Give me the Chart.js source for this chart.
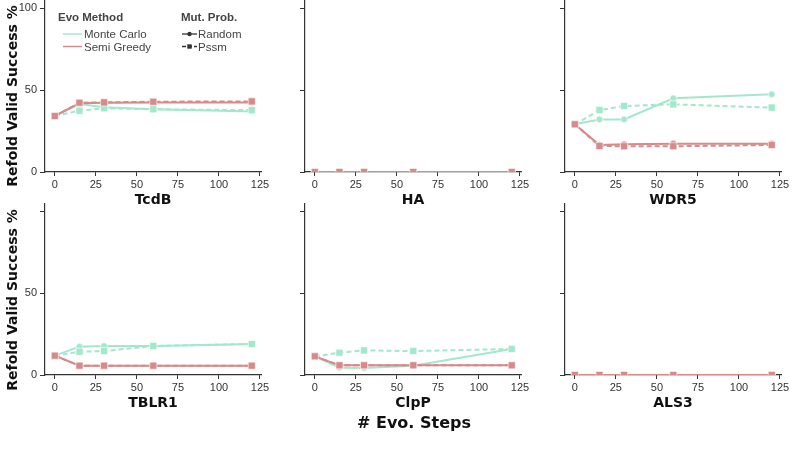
<!DOCTYPE html>
<html>
<head>
<meta charset="utf-8">
<script src="https://cdn.jsdelivr.net/npm/chart.js@4"></script>
<style>
  body { margin: 0; width: 793px; height: 453px; background: #fff; overflow: hidden; position: relative; font-family: "Liberation Sans", Arial, sans-serif; }
  canvas { position: absolute; }
  .title { position: absolute; font-family: "DejaVu Sans", sans-serif; font-weight: bold; color: #111; white-space: nowrap; transform: translate(-50%, -50%); }
  .ytitle { position: absolute; font-family: "DejaVu Sans", sans-serif; font-weight: bold; font-size: 14px; color: #111; white-space: nowrap; transform: translate(-50%, -50%) rotate(-90deg); }
  .leg { position: absolute; font-size: 11.5px; color: #444; white-space: nowrap; transform: translateY(-50%); }
  .leg.b { font-weight: bold; }
  svg { position: absolute; left: 0; top: 0; }
</style>
</head>
<body>
<script>
const steps = [0, 15, 30, 60, 120];
const proteins = ['TcdB', 'HA', 'WDR5', 'TBLR1', 'ClpP', 'ALS3'];
const xTicks = [0, 25, 50, 75, 100, 125];
const yTicks = [0, 50, 100];

// one row per protein, same order as proteins
const mcRandom = [
  [34.2, 41.5, 39.5, 38.3, 37.0],
  [0, 0, 0, 0, 0],
  [29.1, 32.1, 32.1, 45.0, 47.4],
  [11.8, 17.3, 17.7, 17.7, 18.9],
  [11.4, 4.5, 4.3, 5.7, 15.9],
  [0, 0, 0, 0, 0]
];
const mcPssm = [
  [34.2, 37.4, 38.9, 38.3, 37.8],
  [0, 0, 0, 0, 0],
  [29.1, 37.8, 40.3, 41.3, 39.3],
  [11.8, 14.2, 14.6, 17.7, 18.9],
  [11.4, 13.6, 15.0, 14.6, 15.9],
  [0, 0, 0, 0, 0]
];
const sgRandom = [
  [34.2, 42.0, 42.3, 42.5, 42.5],
  [0, 0, 0, 0, 0],
  [29.1, 16.5, 16.9, 17.3, 17.3],
  [11.8, 5.7, 5.7, 5.7, 5.7],
  [11.4, 5.9, 5.9, 5.9, 5.9],
  [0, 0, 0, 0, 0]
];
const sgPssm = [
  [34.2, 42.3, 42.5, 42.9, 43.1],
  [0, 0, 0, 0, 0],
  [29.1, 15.9, 15.7, 15.7, 16.5],
  [11.8, 5.7, 5.7, 5.7, 5.7],
  [11.4, 5.9, 5.9, 5.9, 5.9],
  [0, 0, 0, 0, 0]
];

const teal = '#a3e8cd';
const red = '#d88989';
const axisColor = '#333';

function series(vals, color, dashed, order) {
  return {
    data: steps.map((s, i) => ({ x: s, y: vals[i] })),
    borderColor: color,
    backgroundColor: color,
    borderWidth: 2,
    borderDash: dashed ? [5, 3] : [],
    pointStyle: dashed ? 'rect' : 'circle',
    pointRadius: dashed ? 5 : 3.3,
    pointBorderColor: '#fff',
    pointBorderWidth: 0.6,
    pointBackgroundColor: color,
    order: order
  };
}

proteins.forEach((name, k) => {
  const col = k % 3, row = Math.floor(k / 3);
  const cv = document.createElement('canvas');
  cv.width = 273; cv.height = 200;
  cv.style.left = (260 * col) + 'px';
  cv.style.top = (row ? 203 : 0) + 'px';
  document.body.appendChild(cv);

  new Chart(cv, {
    type: 'line',
    data: {
      datasets: [
        series(mcRandom[k], teal, false, 3),
        series(mcPssm[k], teal, true, 2),
        series(sgRandom[k], red, false, 1),
        series(sgPssm[k], red, true, 0)
      ]
    },
    options: {
      responsive: false,
      animation: false,
      layout: { autoPadding: false, padding: { left: 0, right: 11.4, top: 0, bottom: 0 } },
      plugins: { legend: { display: false }, tooltip: { enabled: false } },
      scales: {
        x: {
          type: 'linear',
          min: -6, max: 126,
          afterBuildTicks: s => { s.ticks = xTicks.map(v => ({ value: v })); },
          afterFit: s => { s.height = 28; s.paddingLeft = 0; s.paddingRight = 0; },
          grid: { drawOnChartArea: false, drawTicks: true, tickLength: 4, color: axisColor, lineWidth: 1 },
          border: { display: true, color: axisColor, width: 1.2 },
          ticks: { color: '#333', padding: 2, maxRotation: 0, font: { family: 'Liberation Sans', size: 11 } }
        },
        y: {
          min: 0, max: 105,
          afterBuildTicks: s => { s.ticks = yTicks.map(v => ({ value: v })); },
          afterFit: s => { s.width = 45; s.paddingTop = 0; s.paddingBottom = 0; },
          grid: { drawOnChartArea: false, drawTicks: true, tickLength: 5, color: axisColor, lineWidth: 1 },
          border: { display: true, color: axisColor, width: 1.2 },
          ticks: {
            color: '#333', padding: 3, font: { family: 'Liberation Sans', size: 11 },
            callback: v => (col === 0 && !(row === 1 && v === 100)) ? String(v) : ''
          }
        }
      }
    }
  });

  const t = document.createElement('div');
  t.className = 'title';
  t.style.fontSize = '14px';
  t.style.left = (153 + 260 * col) + 'px';
  t.style.top = (row ? 402 : 199) + 'px';
  t.textContent = name;
  document.body.appendChild(t);
});

[96, 300].forEach(y => {
  const d = document.createElement('div');
  d.className = 'ytitle';
  d.style.left = '12px';
  d.style.top = y + 'px';
  d.textContent = 'Refold Valid Success %';
  document.body.appendChild(d);
});

const xt = document.createElement('div');
xt.className = 'title';
xt.style.fontSize = '16px';
xt.style.left = '414px';
xt.style.top = '422px';
xt.textContent = '# Evo. Steps';
document.body.appendChild(xt);

// legend
const legText = [
  ['Evo Method', 58, 16.5, true], ['Mut. Prob.', 181, 16.5, true],
  ['Monte Carlo', 84, 34, false], ['Semi Greedy', 84, 46.5, false],
  ['Random', 198, 34, false], ['Pssm', 198, 46.5, false]
];
legText.forEach(([txt, x, y, b]) => {
  const d = document.createElement('div');
  d.className = 'leg' + (b ? ' b' : '');
  d.style.left = x + 'px';
  d.style.top = y + 'px';
  d.textContent = txt;
  document.body.appendChild(d);
});
document.body.insertAdjacentHTML('beforeend',
  '<svg width="260" height="60">' +
  '<line x1="63" y1="34" x2="82" y2="34" stroke="' + teal + '" stroke-width="1.5"/>' +
  '<line x1="63" y1="46.5" x2="82" y2="46.5" stroke="' + red + '" stroke-width="1.5"/>' +
  '<line x1="182" y1="34" x2="197" y2="34" stroke="#333" stroke-width="1.3"/>' +
  '<circle cx="189.5" cy="34" r="2.2" fill="#333"/>' +
  '<line x1="182" y1="46.5" x2="197" y2="46.5" stroke="#333" stroke-width="1.3" stroke-dasharray="4 2"/>' +
  '<rect x="187.3" y="44.3" width="4.4" height="4.4" fill="#333"/>' +
  '</svg>');
</script>
</body>
</html>
